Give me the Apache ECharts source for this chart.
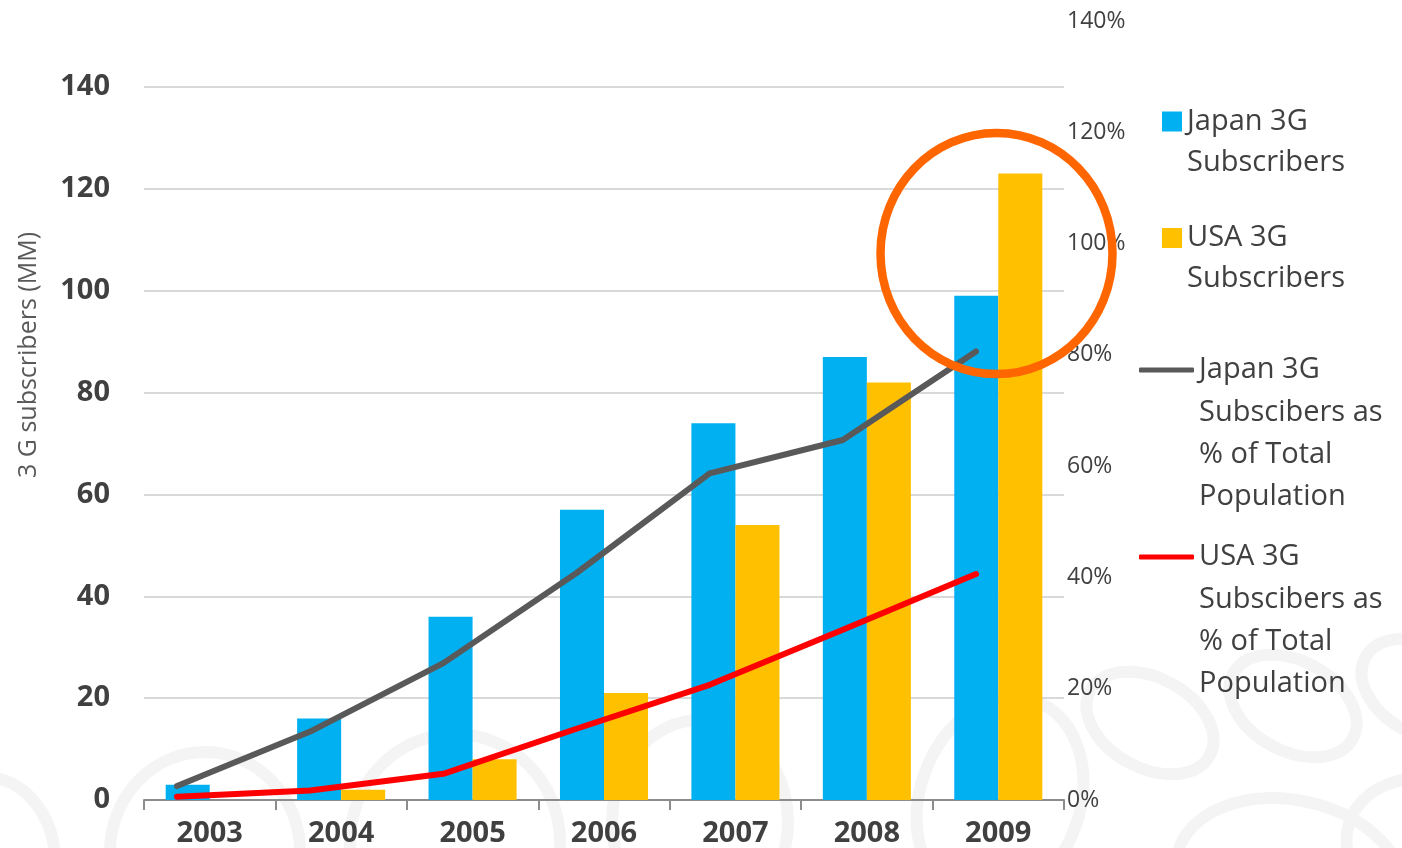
<!DOCTYPE html>
<html>
<head>
<meta charset="utf-8">
<title>3G subscribers: Japan vs USA</title>
<script src="https://cdn.jsdelivr.net/npm/echarts@6/dist/echarts.min.js"></script>
<style>
  html, body { margin: 0; padding: 0; background: #ffffff; }
  #chart { width: 1402px; height: 848px; }
</style>
</head>
<body>
<div id="chart"></div>
<script>
// Years on the category axis
const years = ['2003', '2004', '2005', '2006', '2007', '2008', '2009'];

// 3G subscribers, millions
const japanSubs = [3, 16, 36, 57, 74, 87, 99];
const usaSubs = [0, 2, 8, 21, 54, 82, 123];

// 3G subscribers as % of total population
const japanPct = [2.5, 12.3, 24.6, 40.8, 58.7, 64.7, 80.6];
const usaPct = [0.6, 1.7, 4.7, 12.8, 20.7, 30.6, 40.6];

// Series names
const nameJapanBar = 'Japan 3G Subscribers';
const nameUsaBar = 'USA 3G Subscribers';
const nameJapanLine = 'Japan 3G Subscibers as % of Total Population';
const nameUsaLine = 'USA 3G Subscibers as % of Total Population';

// Legend text, broken into lines
const legendLines = {};
legendLines[nameJapanBar] = ['Japan 3G', 'Subscribers'];
legendLines[nameUsaBar] = ['USA 3G', 'Subscribers'];
legendLines[nameJapanLine] = ['Japan 3G', 'Subscibers as', '% of Total', 'Population'];
legendLines[nameUsaLine] = ['USA 3G', 'Subscibers as', '% of Total', 'Population'];

const FONT = '"Open Sans", Lato, sans-serif';
const TEXT = '#404040';

// A legend for one series. The text block is vertically centred on the icon,
// so it is led by empty lines to bring its first line level with the icon.
function legendFor(name, left, iconCenterY, lh, icon, iconW, iconH) {
  const lines = legendLines[name];
  const n = lines.length;
  const lead = new Array(n - 1).fill('').join('\n') + '\n';
  return {
    data: [name],
    orient: 'vertical',
    left: left,
    top: iconCenterY - (2 * n - 1) * lh / 2,
    padding: 0,
    icon: icon,
    itemWidth: iconW,
    itemHeight: iconH,
    selectedMode: false,
    formatter: function () { return lead + lines.join('\n'); },
    textStyle: {
      fontFamily: FONT,
      fontSize: 29,
      color: TEXT,
      lineHeight: lh
    }
  };
}

// Faint ring watermark along the bottom of the slide: [cx, cy, rx, ry, rotation]
const ringSpecs = [
  [-15, 862, 70, 85, 0],
  [205, 852, 95, 100, 0],
  [455, 842, 105, 108, 0],
  [700, 822, 88, 102, 0],
  [1000, 800, 80, 105, -0.35],
  [1150, 723, 68, 45, -0.5],
  [1293, 706, 68, 45, -0.5],
  [1425, 690, 68, 45, -0.5],
  [1290, 878, 115, 78, -0.2],
  [1435, 850, 90, 70, -0.3]
];
const rings = ringSpecs.map(function (r) {
  return {
    type: 'ellipse',
    z: -10,
    silent: true,
    shape: { cx: 0, cy: 0, rx: r[2], ry: r[3] },
    x: r[0], y: r[1], rotation: r[4],
    style: { fill: 'none', stroke: '#f4f4f4', lineWidth: 12 }
  };
});

const chart = echarts.init(document.getElementById('chart'), null, { renderer: 'canvas' });

chart.setOption({
  backgroundColor: '#ffffff',
  animation: false,
  textStyle: { fontFamily: FONT },
  grid: [
    // bars and the millions axis
    { left: 144, right: 338, top: 87, bottom: 48 },
    // percentage lines
    { left: 177, right: 426, top: 21, bottom: 48 },
    // carries the millions axis title, centred on the upper part of the axis
    { left: 144, right: 338, top: 87, bottom: 225 }
  ],
  legend: [
    legendFor(nameJapanBar, 1162, 121.5, 41, 'rect', 20, 20),
    legendFor(nameUsaBar, 1162, 238, 41, 'rect', 20, 20),
    legendFor(nameJapanLine, 1139, 370, 42.3, 'roundRect', 55, 5),
    legendFor(nameUsaLine, 1139, 557, 42.3, 'roundRect', 55, 5)
  ],
  xAxis: [
    {
      type: 'category',
      gridIndex: 0,
      data: years,
      axisLine: { show: true, lineStyle: { color: '#8c8c8c', width: 2 } },
      axisTick: { show: true, interval: 0, length: 10, lineStyle: { color: '#8c8c8c', width: 2 } },
      axisLabel: {
        interval: 0, margin: 19,
        fontFamily: FONT, fontSize: 29, fontWeight: 'bold', color: TEXT
      },
      splitLine: { show: false }
    },
    {
      type: 'category',
      gridIndex: 1,
      data: years,
      boundaryGap: false,
      show: false
    },
    {
      type: 'category',
      gridIndex: 2,
      data: years,
      show: false
    }
  ],
  yAxis: [
    {
      type: 'value',
      gridIndex: 0,
      min: 0, max: 140, interval: 20,
      axisLine: { show: false },
      axisTick: { show: false },
      axisLabel: {
        margin: 34,
        fontFamily: FONT, fontSize: 29, fontWeight: 'bold', color: TEXT
      },
      splitLine: { show: true, lineStyle: { color: '#cdcdcd', width: 1.5 } }
    },
    {
      type: 'value',
      gridIndex: 1,
      position: 'right',
      offset: 88,
      min: 0, max: 140, interval: 20,
      axisLine: { show: false },
      axisTick: { show: false },
      splitLine: { show: false },
      axisLabel: {
        margin: 3,
        fontFamily: FONT, fontSize: 23, color: TEXT,
        formatter: function (v) { return v + '%'; }
      }
    },
    {
      type: 'value',
      gridIndex: 2,
      min: 0, max: 140,
      name: '3 G subscribers (MM)',
      nameLocation: 'middle',
      nameRotate: 90,
      nameGap: 103,
      nameTextStyle: { fontFamily: FONT, fontSize: 25, color: '#595959' },
      axisLine: { show: false },
      axisTick: { show: false },
      axisLabel: { show: false },
      splitLine: { show: false }
    }
  ],
  series: [
    {
      name: nameJapanBar,
      type: 'bar',
      xAxisIndex: 0, yAxisIndex: 0,
      data: japanSubs,
      barGap: '0%',
      barCategoryGap: '33%',
      itemStyle: { color: '#00B0F0' },
      z: 2
    },
    {
      name: nameUsaBar,
      type: 'bar',
      xAxisIndex: 0, yAxisIndex: 0,
      data: usaSubs,
      barGap: '0%',
      barCategoryGap: '33%',
      itemStyle: { color: '#FFC000' },
      z: 2
    },
    {
      name: nameJapanLine,
      type: 'line',
      xAxisIndex: 1, yAxisIndex: 1,
      data: japanPct,
      symbol: 'none',
      lineStyle: { color: '#595959', width: 6, cap: 'round', join: 'round' },
      itemStyle: { color: '#595959' },
      z: 5
    },
    {
      name: nameUsaLine,
      type: 'line',
      xAxisIndex: 1, yAxisIndex: 1,
      data: usaPct,
      symbol: 'none',
      lineStyle: { color: '#FF0000', width: 6, cap: 'round', join: 'round' },
      itemStyle: { color: '#FF0000' },
      z: 5
    }
  ],
  graphic: rings.concat([
    // highlight ring around the 2009 bars
    {
      type: 'ellipse',
      z: 100,
      silent: true,
      shape: { cx: 996.5, cy: 253.5, rx: 116, ry: 120.5 },
      style: { fill: 'none', stroke: '#FF6600', lineWidth: 8.5 }
    }
  ])
});
</script>
</body>
</html>
